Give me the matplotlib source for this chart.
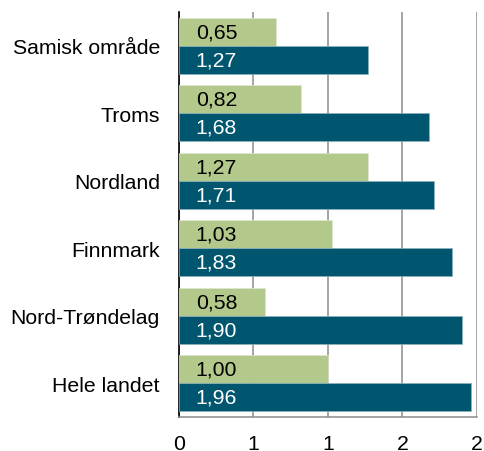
import matplotlib.pyplot as plt
import numpy as np

plt.rcParams['font.family'] = ['Liberation Sans', 'DejaVu Sans']

# ----------------------------------------------------------------------------------------------------------------------
kategorier = ["Samisk område", "Troms", "Nordland", "Finnmark", "Nord-Trøndelag", "Hele landet"]
serie_gronn = [0.65, 0.82, 1.27, 1.03, 0.58, 1.00]
serie_blaa = [1.27, 1.68, 1.71, 1.83, 1.90, 1.96]
x_ticks = [0, 0.5, 1.0, 1.5, 2.0]
x_ticklabels = ["0", "1", "1", "2", "2"]

GRONN = "#B3C98B"
BLAA = "#00566E"
FS = 15.3


def fmt(v):
    return f"{v:.2f}".replace(".", ",")


# ----------------------------------------------------------------------------------------------------------------------
fig = plt.figure(figsize=(4.85, 4.52), dpi=100)
ax = fig.add_axes([0.369, 0.075, 0.6145, 0.896])

y = np.arange(len(kategorier))
h = 0.415

ax.barh(y - h / 2, serie_gronn, height=h, color=GRONN, edgecolor="#dfe6d2", linewidth=0.5, zorder=3)
ax.barh(y + h / 2, serie_blaa, height=h, color=BLAA, edgecolor="#8fb0bc", linewidth=0.5, zorder=3)

for i in range(len(kategorier)):
    ax.annotate(fmt(serie_gronn[i]), xy=(0, y[i] - h / 2), xytext=(12, 0), textcoords="offset points",
                va="center", ha="left", fontsize=FS, color="black", zorder=4)
    ax.annotate(fmt(serie_blaa[i]), xy=(0, y[i] + h / 2), xytext=(12, 0), textcoords="offset points",
                va="center", ha="left", fontsize=FS, color="white", zorder=4)

ax.set_xlim(0, 2)
ax.set_ylim(len(kategorier) - 0.5, -0.5)
ax.set_xticks(x_ticks)
ax.set_xticklabels(x_ticklabels, fontsize=FS)
ax.set_yticks(y)
ax.set_yticklabels(kategorier, fontsize=FS)
ax.tick_params(axis="both", length=0)
ax.tick_params(axis="x", pad=12)
ax.tick_params(axis="y", pad=13.7)

ax.grid(True, axis="x", color="#8c8c8c", linewidth=1.1, zorder=0)
ax.set_axisbelow(True)

ax.spines["top"].set_visible(False)
ax.spines["right"].set_visible(False)
ax.spines["left"].set_color("black")
ax.spines["left"].set_linewidth(1.2)
ax.spines["bottom"].set_color("#8c8c8c")
ax.spines["bottom"].set_linewidth(1.1)

fig.savefig("out.png", dpi=100)
